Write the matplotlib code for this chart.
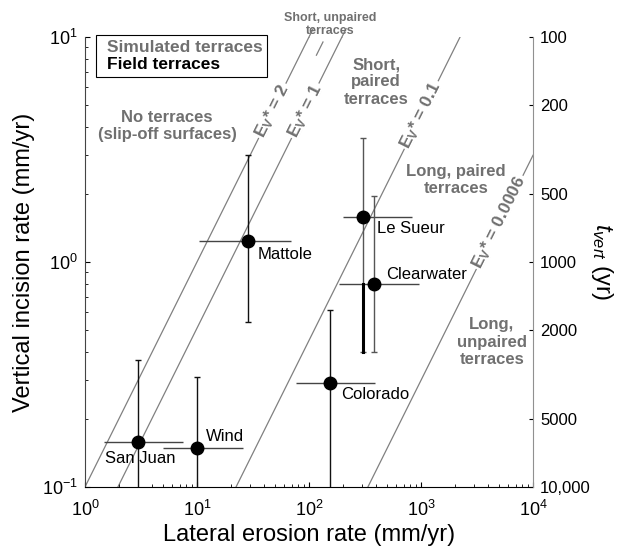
import numpy as np
import matplotlib.pyplot as plt
from matplotlib.lines import Line2D

plt.rcParams['font.family'] = 'Liberation Sans'
plt.rcParams['mathtext.fontset'] = 'custom'
plt.rcParams['mathtext.rm'] = 'Liberation Sans'
plt.rcParams['mathtext.it'] = 'Liberation Sans:italic'
plt.rcParams['mathtext.bf'] = 'Liberation Sans:bold'

# field sites (mm/yr): best estimate and range
sites = ['San Juan', 'Wind', 'Mattole', 'Le Sueur', 'Clearwater', 'Colorado']
lat_rate = [3.0, 10.0, 28.5, 303, 380, 154]
lat_lo = [1.48, 4.97, 10.4, 201, 185, 76]
lat_hi = [7.5, 25.8, 69, 832, 960, 388]
vert_rate = [0.158, 0.149, 1.24, 1.585, 0.80, 0.29]
vert_lo = [0.05, 0.05, 0.54, 0.40, 0.40, 0.05]
vert_hi = [0.367, 0.308, 3.0, 3.56, 1.97, 0.61]

# E_v* contours, given as vertical/lateral rate ratio
ev_labels = ['2', '1', '0.1', '0.0006']
ev_ratio = [0.1, 0.0508, 0.00448, 0.000298]

# time to incise 1 m
h_mm = 1000
t_ticks = [100, 200, 500, 1000, 2000, 5000, 10000]
t_ticklabels = ['100', '200', '500', '1000', '2000', '5000', '10,000']

gray = '#707070'

fig = plt.figure(figsize=(6.18, 5.52), dpi=100)
ax = fig.add_axes([0.1375, 0.1178, 0.725, 0.8152])
ax.set_xscale('log')
ax.set_yscale('log')
ax.set_xlim(1, 1e4)
ax.set_ylim(0.1, 10)

# slope of a 1:1 line on screen, for rotating labels
p1 = ax.transData.transform((1, 0.1))
p2 = ax.transData.transform((10, 1))
angle = np.degrees(np.arctan2(p2[1] - p1[1], p2[0] - p1[0]))

xx = np.logspace(0, 4, 200)
label_y = [4.7, 4.7, 4.5, 1.5]
for lab, c, ly in zip(ev_labels, ev_ratio, label_y):
    ax.plot(xx, c * xx, color='#808080', lw=0.9, zorder=1)
    ax.text(ly / c, ly, r'$\mathbf{E}_\mathbf{V}$* = ' + lab,
            rotation=angle, rotation_mode='anchor', ha='center', va='center',
            fontsize=12.5, fontweight='bold', color=gray, zorder=2,
            bbox=dict(facecolor='white', edgecolor='none', pad=1))

# leaders up to the "short, unpaired" note
for c in ev_ratio[:2]:
    ax.plot([10 / c, 10.9 / c], [10, 10.9], color='#808080', lw=0.9, clip_on=False)
c_mid = np.sqrt(ev_ratio[0] * ev_ratio[1])
ax.plot([8.3 / c_mid, 9.5 / c_mid], [8.3, 9.5], color='#808080', lw=0.9)

# error bars and points
vcol = ['#111111', '#111111', '#111111', '#555555', '#555555', '#111111']
for i in range(len(sites)):
    x, y = lat_rate[i], vert_rate[i]
    ax.errorbar(x, y, yerr=[[y - vert_lo[i]], [vert_hi[i] - y]], fmt='none',
                ecolor=vcol[i], elinewidth=1, capsize=2, capthick=1, zorder=3)
    ax.errorbar(x, y, xerr=[[x - lat_lo[i]], [lat_hi[i] - x]], fmt='none',
                ecolor='#444444', elinewidth=1, capsize=0, zorder=3)
ax.plot([lat_rate[3]] * 2, [vert_rate[4], vert_lo[3]], color='black', lw=2.2, zorder=3)
ax.plot(lat_rate, vert_rate, 'o', color='black', ms=9, zorder=5)

offsets = [(-24, -11.5), (6.5, 8), (7, -10), (10, -8), (8.6, 6.5), (8, -8.6)]
for name, x, y, off in zip(sites, lat_rate, vert_rate, offsets):
    ax.annotate(name, (x, y), xytext=off, textcoords='offset points',
                ha='left', va='center', fontsize=12, zorder=6)

# regime labels
reg = dict(ha='center', va='center', fontsize=12, fontweight='bold',
           color=gray, transform=ax.transAxes)
ax.text(0.183, 0.802, 'No terraces\n(slip-off surfaces)', **reg)
ax.text(0.650, 0.900, 'Short,\npaired\nterraces', **reg)
ax.text(0.828, 0.682, 'Long, paired\nterraces', **reg)
ax.text(0.908, 0.322, 'Long,\nunpaired\nterraces', **reg)
ax.text(0.547, 1.028, 'Short, unpaired\nterraces', ha='center', va='center',
        fontsize=9, fontweight='bold', color=gray, transform=ax.transAxes,
        linespacing=1.1)

handles = [Line2D([], [], linestyle='none'), Line2D([], [], linestyle='none')]
leg = ax.legend(handles, ['Simulated terraces', 'Field terraces'],
                loc='upper left', bbox_to_anchor=(0.0246, 1.004),
                borderaxespad=0, handlelength=0, handletextpad=0.4,
                borderpad=0.25, labelspacing=0.15, fancybox=False,
                framealpha=1, edgecolor='black',
                prop={'weight': 'bold', 'size': 12.5})
leg.get_frame().set_linewidth(0.8)
for t, col in zip(leg.get_texts(), [gray, 'black']):
    t.set_color(col)

for s in ['top', 'right']:
    ax.spines[s].set_visible(False)
ax.spines['left'].set_color('#444444')
ax.tick_params(which='both', direction='in', labelsize=13)
ax.tick_params(which='major', length=3.5, pad=5)
ax.tick_params(which='minor', length=2)
ax.tick_params(axis='x', which='major', pad=9)
ax.set_xlabel('Lateral erosion rate (mm/yr)', fontsize=17, labelpad=3)
ax.set_ylabel('Vertical incision rate (mm/yr)', fontsize=17, labelpad=5)

# right axis: time to incise h_mm
ax2 = ax.twinx()
ax2.set_yscale('log')
ax2.set_ylim(h_mm / 0.1, h_mm / 10)
ax2.set_yticks(t_ticks)
ax2.set_yticklabels(t_ticklabels)
ax2.yaxis.set_minor_locator(plt.NullLocator())
for s in ['top', 'left', 'bottom']:
    ax2.spines[s].set_visible(False)
ax2.spines['right'].set_color('#909090')
ax2.tick_params(direction='in', length=3, pad=5, labelsize=12)
ax2.set_ylabel(r'$t_{vert}$ (yr)', fontsize=17, rotation=270, va='center')
ax2.yaxis.set_label_coords(1.154, 0.5)

fig.savefig('out.png', dpi=100)
